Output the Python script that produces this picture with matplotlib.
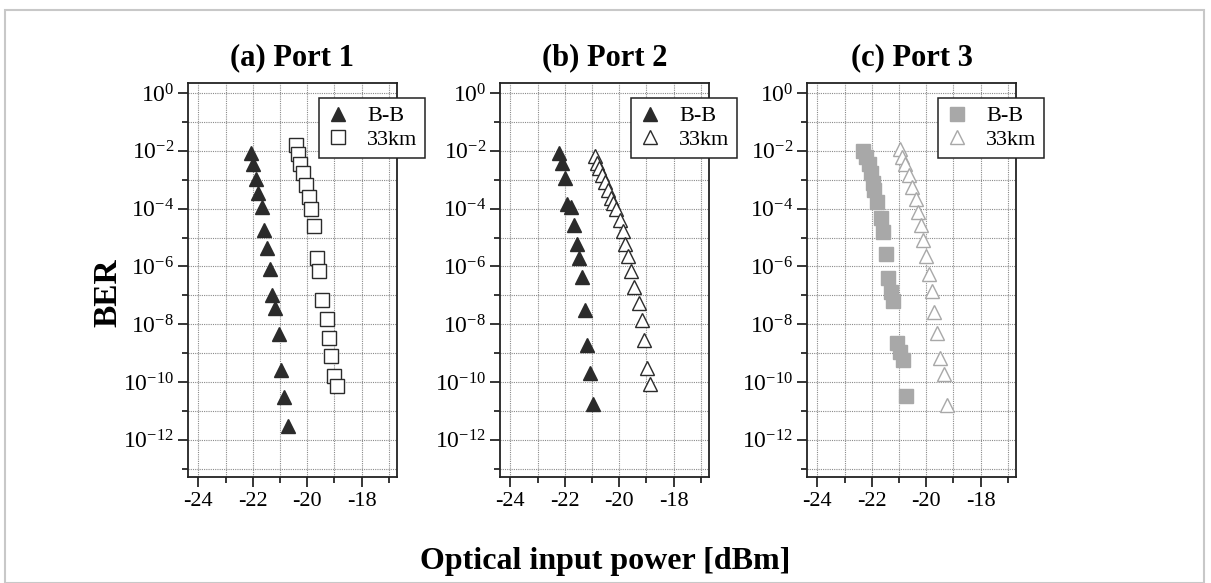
import numpy as np
import matplotlib
matplotlib.use("Agg")
import matplotlib.pyplot as plt
from matplotlib.patches import Rectangle
from matplotlib.ticker import LogFormatterMathtext

plt.rcParams["font.family"] = ["Liberation Serif", "DejaVu Serif"]
plt.rcParams["mathtext.fontset"] = "custom"
plt.rcParams["mathtext.rm"] = "Liberation Serif"
plt.rcParams["axes.unicode_minus"] = False

# power in dBm, BER given as log10(BER)
a_bb_pow = [-22.07, -22.00, -21.89, -21.79, -21.67, -21.58, -21.49, -21.36,
            -21.28, -21.18, -21.05, -20.97, -20.85, -20.72]
a_bb_ber = [-2.07, -2.44, -2.96, -3.45, -3.96, -4.73, -5.35, -6.08,
            -7.00, -7.43, -8.33, -9.60, -10.53, -11.51]
a_km_pow = [-20.42, -20.35, -20.26, -20.16, -20.05, -19.94, -19.86, -19.75,
            -19.65, -19.55, -19.45, -19.28, -19.19, -19.11, -19.00, -18.91]
a_km_ber = [-1.80, -2.11, -2.44, -2.78, -3.17, -3.59, -4.02, -4.60,
            -5.70, -6.17, -7.15, -7.81, -8.48, -9.09, -9.80, -10.15]

b_bb_pow = [-22.20, -22.11, -21.98, -21.93, -21.76, -21.65, -21.56, -21.49,
            -21.36, -21.25, -21.17, -21.07, -20.95]
b_bb_ber = [-2.07, -2.41, -2.94, -3.85, -3.94, -4.58, -5.21, -5.71,
            -6.37, -7.52, -8.73, -9.69, -10.76]
b_km_pow = [-20.89, -20.83, -20.73, -20.63, -20.53, -20.42, -20.31, -20.21,
            -20.11, -19.96, -19.85, -19.77, -19.66, -19.56, -19.47, -19.29,
            -19.18, -19.10, -18.98, -18.88]
b_km_ber = [-2.18, -2.41, -2.61, -2.82, -3.07, -3.36, -3.63, -3.82,
            -4.03, -4.38, -4.78, -5.21, -5.65, -6.16, -6.71, -7.27,
            -7.87, -8.56, -9.51, -10.06]

c_bb_pow = [-22.31, -22.21, -22.12, -22.04, -21.96, -21.90, -21.82, -21.67,
            -21.60, -21.49, -21.39, -21.30, -21.21, -21.08, -20.96, -20.84,
            -20.74]
c_bb_ber = [-2.00, -2.21, -2.44, -2.78, -3.13, -3.36, -3.77, -4.34,
            -4.81, -5.58, -6.40, -6.89, -7.20, -8.65, -8.97, -9.25, -10.50]
c_km_pow = [-20.96, -20.90, -20.78, -20.63, -20.51, -20.38, -20.29, -20.20,
            -20.10, -20.00, -19.89, -19.79, -19.70, -19.59, -19.49, -19.33,
            -19.24]
c_km_ber = [-1.92, -2.21, -2.47, -2.84, -3.25, -3.65, -4.11, -4.58,
            -5.10, -5.65, -6.27, -6.86, -7.58, -8.31, -9.17, -9.72, -10.81]

titles = ["(a) Port 1", "(b) Port 2", "(c) Port 3"]
series_labels = ["B-B", "33km"]
x_major = [-24, -22, -20, -18]
x_minor = [-23, -21, -19, -17]
y_major_exp = [0, -2, -4, -6, -8, -10, -12]
y_minor_exp = [-1, -3, -5, -7, -9, -11, -13]

DARK = "#2b2b2b"
GREY = "#a8a8a8"

panels = [
    (a_bb_pow, a_bb_ber, dict(marker="^", ms=10, mfc=DARK, mec=DARK),
     a_km_pow, a_km_ber, dict(marker="s", ms=9.5, mfc="white", mec=DARK, mew=1.0)),
    (b_bb_pow, b_bb_ber, dict(marker="^", ms=10, mfc=DARK, mec=DARK),
     b_km_pow, b_km_ber, dict(marker="^", ms=10, mfc="white", mec=DARK, mew=1.0)),
    (c_bb_pow, c_bb_ber, dict(marker="s", ms=10, mfc=GREY, mec=GREY),
     c_km_pow, c_km_ber, dict(marker="^", ms=10, mfc="white", mec=GREY, mew=1.0)),
]

W, H = 1211, 583
fig = plt.figure(figsize=(W / 100, H / 100), dpi=100)
fig.patch.set_facecolor("white")

# light grey page border
fig.patches.append(Rectangle((5 / W, 0.0), 1199 / W, 1 - 10 / H, transform=fig.transFigure,
                             fill=False, edgecolor="#c8c8c8", linewidth=1.5))

lefts = [188, 500, 807]
ax_w, ax_top, ax_bot = 209, 83, 476.5

for left, title, (bx, by, bst, kx, ky, kst) in zip(lefts, titles, panels):
    ax = fig.add_axes([left / W, 1 - ax_bot / H, ax_w / W, (ax_bot - ax_top) / H])
    ax.set_yscale("log")
    ax.plot(bx, 10.0 ** np.array(by), ls="none", label=series_labels[0], **bst)
    ax.plot(kx, 10.0 ** np.array(ky), ls="none", label=series_labels[1], **kst)

    ax.set_xlim(-24.38, -16.7)
    ax.set_ylim(10 ** -13.27, 10 ** 0.347)
    ax.set_xticks(x_major)
    ax.set_xticks(x_minor, minor=True)
    ax.set_yticks([10.0 ** e for e in y_major_exp])
    ax.set_yticks([10.0 ** e for e in y_minor_exp], minor=True)
    ax.yaxis.set_major_formatter(LogFormatterMathtext())
    ax.yaxis.set_minor_formatter(plt.NullFormatter())

    ax.grid(True, which="both", ls=(0, (1, 1)), color="#8a8a8a", lw=0.8)
    ax.tick_params(which="major", direction="out", length=7, width=1.1, pad=3)
    ax.tick_params(which="minor", direction="out", length=4, width=1.1)
    ax.tick_params(axis="x", labelsize=16, pad=4)
    ax.tick_params(axis="y", labelsize=17)
    for sp in ax.spines.values():
        sp.set_linewidth(1.3)
        sp.set_color("#222")

    ax.set_title(title, fontsize=22, fontweight="bold", pad=13)
    leg = ax.legend(loc="upper right", bbox_to_anchor=(1.134, 0.962), borderaxespad=0,
                    fontsize=16, fancybox=False, framealpha=1, edgecolor="#222",
                    handlelength=1.0, handletextpad=0.8, borderpad=0.35,
                    labelspacing=0.15, numpoints=1)
    leg.get_frame().set_linewidth(1.1)
    leg.set_zorder(5)

fig.text(108 / W, 1 - 293 / H, "BER", rotation=90, fontsize=24, fontweight="bold",
         ha="center", va="center")
fig.text(0.5, 1 - 562 / H, "Optical input power [dBm]", fontsize=23, fontweight="bold",
         ha="center", va="center")

fig.savefig("out.png", dpi=100)
